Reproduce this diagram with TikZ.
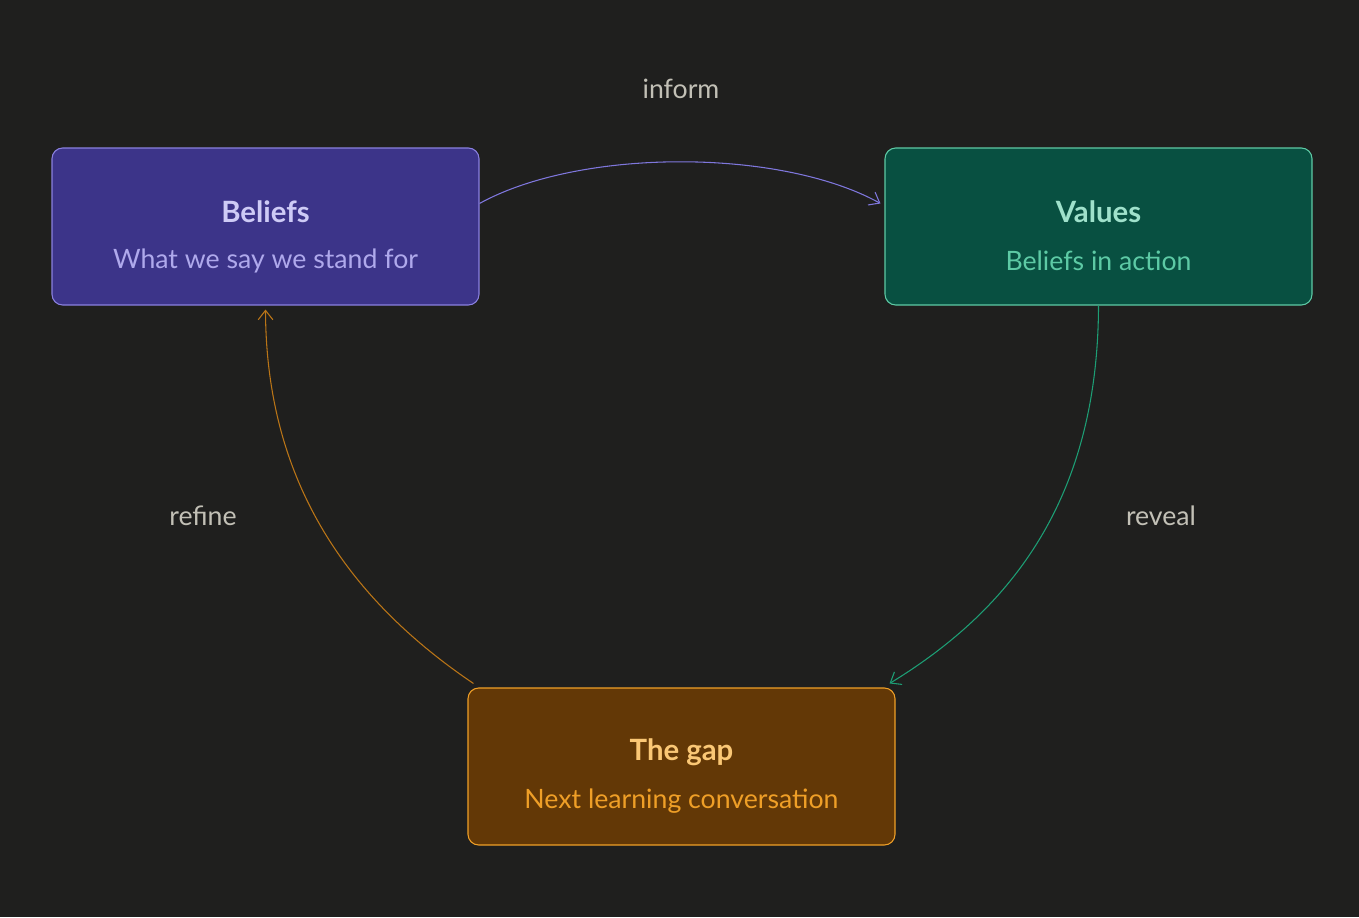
\documentclass[tikz,border=0pt]{standalone}
\usepackage{fontspec}
\setmainfont{Lato}
\usetikzlibrary{arrows.meta,calc}
\definecolor{bg}{HTML}{1F1F1E}
\definecolor{labelgray}{HTML}{C2C0B6}
\definecolor{purpfill}{HTML}{3C3489}
\definecolor{purpline}{HTML}{8A80E0}
\definecolor{purptitle}{HTML}{CECBF6}
\definecolor{purpsub}{HTML}{AFA9EC}
\definecolor{purparrow}{HTML}{7F77DD}
\definecolor{greenfill}{HTML}{085041}
\definecolor{greenline}{HTML}{5DCAA5}
\definecolor{greentitle}{HTML}{9FE1CB}
\definecolor{greenarrow}{HTML}{1D9E75}
\definecolor{orfill}{HTML}{633806}
\definecolor{orline}{HTML}{EF9F27}
\definecolor{ortitle}{HTML}{FAC775}
\definecolor{orarrow}{HTML}{BA7517}

\begin{document}
\begin{tikzpicture}[x=0.75pt,y=-0.75pt,thick,
                    >={Straight Barb[length=7pt,width=11pt]},
                    box/.style={rectangle,rounded corners=8pt,line width=0.8pt,
                      minimum width=427*0.75pt,minimum height=157*0.75pt,align=center},
                    title/.style={font=\fontsize{22}{26}\selectfont\bfseries},
                    sub/.style={font=\fontsize{20}{24}\selectfont},
                    lbl/.style={text=labelgray,font=\fontsize{20}{24}\selectfont}]
  \fill[bg] (0,0) rectangle (1359,917);

  \node[box,draw=purpline,fill=purpfill] (beliefs) at (265.5,226.5) {};
  \node[title,text=purptitle] at (265.5,212) {Beliefs};
  \node[sub,text=purpsub] at (265.5,261) {What we say we stand for};

  \node[box,draw=greenline,fill=greenfill] (values) at (1098.5,226.5) {};
  \node[title,text=greentitle] at (1098.5,212) {Values};
  \node[sub,text=greenline] at (1098.5,261) {Beliefs in action};

  \node[box,draw=orline,fill=orfill] (gap) at (681.5,766.5) {};
  \node[title,text=ortitle] at (681.5,752) {The gap};
  \node[sub,text=orline] at (681.5,801) {Next learning conversation};

  \draw[->,purparrow] ($(beliefs.north east)+(0,56)$) .. controls (580,148) and (780,148) .. ($(values.north west)+(-4,56)$);
  \draw[->,greenarrow] (values.south) .. controls (1098,500) and (1010,610) .. ($(gap.north east)+(-6,-4)$);
  \draw[->,orarrow] ($(gap.north west)+(6,-4)$) .. controls (320,580) and (266,450) .. ($(beliefs.south)+(0,4)$);

  \node[lbl] (inform) at (681,89) {inform};
  \node[lbl] (reveal) at (1161,516) {reveal};
  \node[lbl] (refine) at (203,516) {refine};
\end{tikzpicture}
\end{document}
